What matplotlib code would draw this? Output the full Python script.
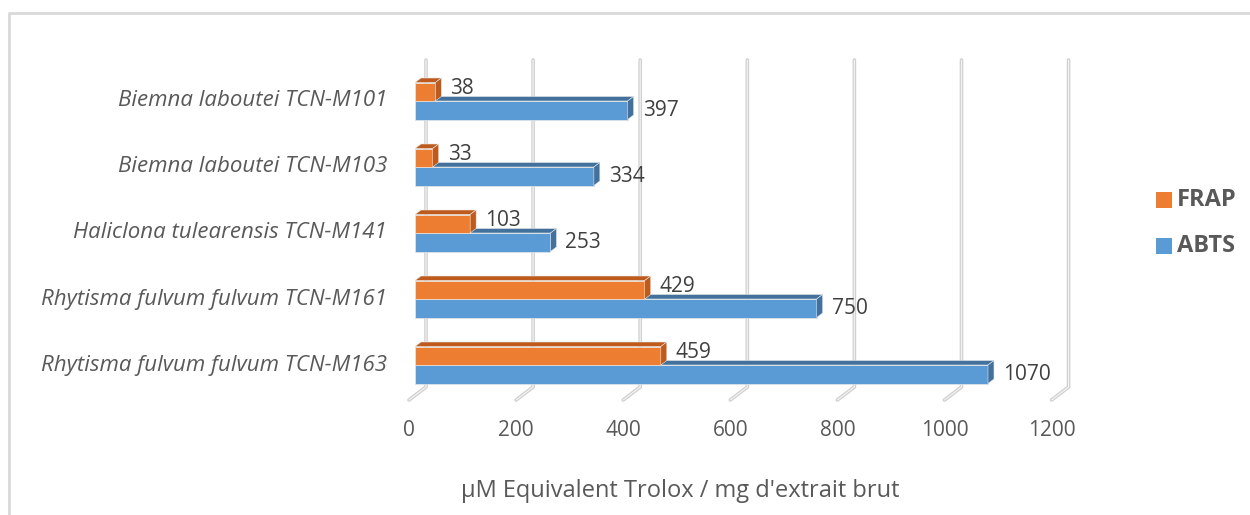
import matplotlib
matplotlib.use("Agg")
import matplotlib.pyplot as plt
from matplotlib.patches import Polygon, Rectangle

plt.rcParams['font.family'] = ['Open Sans', 'DejaVu Sans']

# data (bottom to top)
species = ['Rhytisma fulvum fulvum TCN-M163', 'Rhytisma fulvum fulvum TCN-M161',
           'Haliclona tulearensis TCN-M141', 'Biemna laboutei TCN-M103',
           'Biemna laboutei TCN-M101']
abts = [1070, 750, 253, 334, 397]
frap = [459, 429, 103, 33, 38]
xticks = [0, 200, 400, 600, 800, 1000, 1200]

blue, blue_dk = '#5B9BD5', '#41719C'
orange, orange_dk = '#ED7D31', '#BE5B1C'
txt = '#595959'

W, H = 1250, 515
fig = plt.figure(figsize=(W / 100, H / 100), dpi=100)

# pixel layout of the plot area
ax_l, ax_r, ax_t, ax_b = 395, 1100, 60, 387
ax = fig.add_axes([ax_l / W, 1 - ax_b / H, (ax_r - ax_l) / W, (ax_b - ax_t) / H])

x0_px, px_per_unit = 415, 0.5355   # bar origin and scale
y0_px, px_per_row = 365, 66        # first group centre and row spacing


def xd(px):
    return (px - x0_px) / px_per_unit


def yd(px):
    return (y0_px - px) / px_per_row


ax.set_xlim(xd(ax_l), xd(ax_r))
ax.set_ylim(yd(ax_b), yd(ax_t))
for s in ax.spines.values():
    s.set_visible(False)
ax.set_xticks([])

ux = 1 / px_per_unit       # data units per pixel (x)
uy = 1 / px_per_row        # data units per pixel (y)
h = 18.5 * uy              # bar thickness
ddx, ddy = 6 * ux, 4.5 * uy  # 3d depth offset

# back wall gridlines + floor diagonals
back = 11 * ux
front = -6 * ux
for v in xticks:
    xs = [v + back, v + back, v + front]
    ys = [yd(ax_t), yd(ax_b), yd(400)]
    ax.plot(xs, ys, color='#cfcfcf', lw=2.6, solid_capstyle='round',
            solid_joinstyle='round', clip_on=False, zorder=1)
    ax.plot(xs, ys, color='#f2f2f2', lw=0.9, solid_capstyle='round',
            clip_on=False, zorder=1)
    ax.text(v + front, yd(430), str(v), ha='center', va='center',
            fontsize=15, color=txt)


def bar3d(y, v, c, c_dk):
    ax.barh(y, v, height=h, left=0, align='edge', color=c,
            edgecolor='#e6e6e6', linewidth=0.5, zorder=3)
    top = [(0, y + h), (v, y + h), (v + ddx, y + h + ddy), (ddx, y + h + ddy)]
    side = [(v, y), (v, y + h), (v + ddx, y + h + ddy), (v + ddx, y + ddy)]
    ax.add_patch(Polygon(top, closed=True, facecolor=c_dk, edgecolor='#e6e6e6',
                         linewidth=0.4, zorder=3))
    ax.add_patch(Polygon(side, closed=True, facecolor=c_dk, edgecolor='#e6e6e6',
                         linewidth=0.4, zorder=3))


for k in range(len(species)):
    bar3d(k - h, abts[k], blue, blue_dk)
    bar3d(k, frap[k], orange, orange_dk)
    ax.text(abts[k] + 15 * ux, k - h / 2, str(abts[k]), ha='left', va='center',
            fontsize=15, color='#404040', zorder=5)
    ax.text(frap[k] + 15 * ux, k + h / 2 + 3 * uy, str(frap[k]), ha='left',
            va='center', fontsize=15, color='#404040', zorder=5)

ax.set_yticks(range(len(species)))
ax.set_yticklabels(species, fontsize=16, style='italic', color=txt)
ax.tick_params(axis='y', length=0, pad=(ax_l - 387) * 0.72)
for lab in ax.get_yticklabels():
    lab.set_va('center')

fig.text(680 / W, 1 - 491 / H, "µM Equivalent Trolox / mg d'extrait brut",
         ha='center', va='center', fontsize=17, color=txt)

# legend: coloured squares + bold labels
for name, col, cy in [('FRAP', orange, 200), ('ABTS', blue, 246)]:
    fig.add_artist(Rectangle((1156 / W, 1 - (cy + 8) / H), 16 / W, 16 / H,
                             transform=fig.transFigure, facecolor=col,
                             edgecolor='none'))
    fig.text(1177 / W, 1 - cy / H, name, ha='left', va='center',
             fontsize=17, fontweight='bold', color=txt)

# outer chart frame
fig.add_artist(plt.Line2D([9 / W, 9 / W, 1], [0, 1 - 13 / H, 1 - 13 / H],
                          transform=fig.transFigure, color='#d9d9d9', lw=2))

fig.savefig('out.png', dpi=100)
